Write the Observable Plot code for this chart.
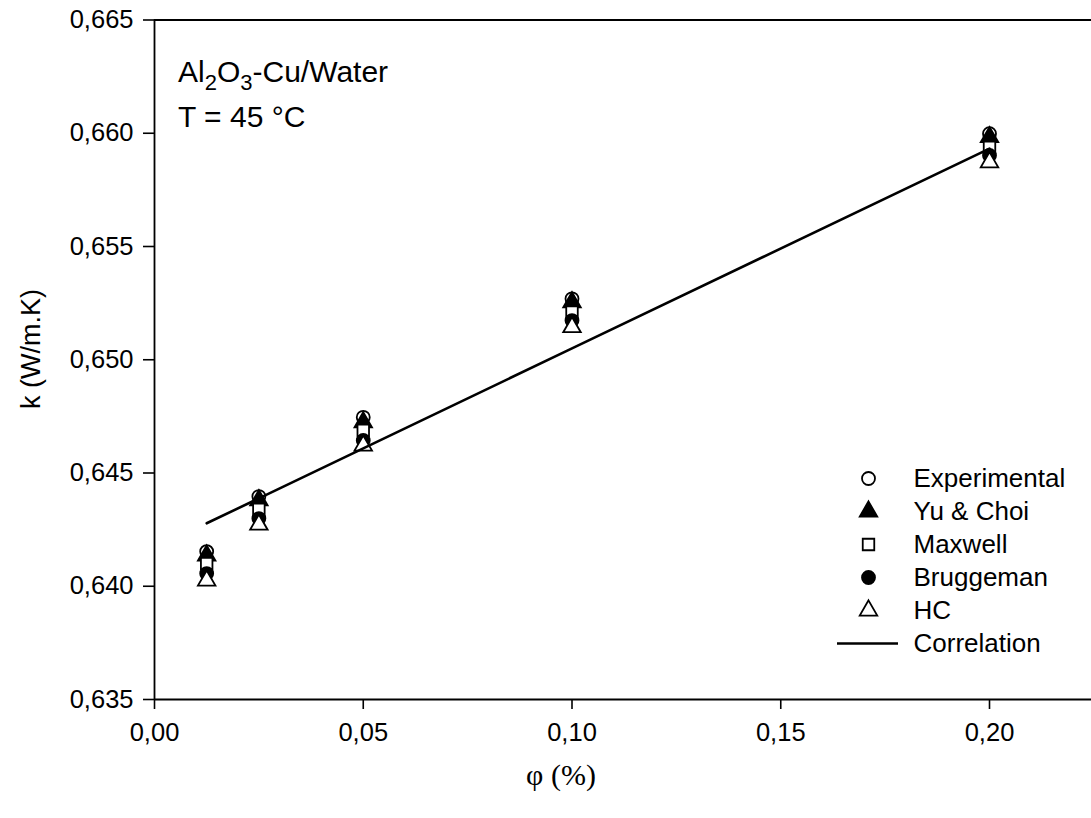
<!DOCTYPE html>
<html>
<head>
<meta charset="utf-8">
<script src="https://cdn.jsdelivr.net/npm/d3@7"></script>
<script src="https://cdn.jsdelivr.net/npm/@observablehq/plot@0.6"></script>
<style>
  html, body { margin: 0; padding: 0; background: white; }
  #wrap { position: relative; width: 1091px; height: 818px; }
  #legend { position: absolute; left: 830px; top: 455px; }
</style>
</head>
<body>
<div id="wrap"></div>
<script>
// ---- data ----
const phi = [0.0125, 0.025, 0.05, 0.1, 0.2];
const experimental = [0.64153, 0.64396, 0.64746, 0.65269, 0.65998];
const yuChoi      = [0.64136, 0.64380, 0.64724, 0.65254, 0.65983];
const maxwell     = [0.64100, 0.64339, 0.64688, 0.65210, 0.65938];
const bruggeman   = [0.64056, 0.64299, 0.64644, 0.65173, 0.65902];
const hc          = [0.64025, 0.64272, 0.64621, 0.65144, 0.65872];
const correlation = [0.64278, 0.64388, 0.64609, 0.65050, 0.65932];

const seriesNames = ["Experimental", "Yu & Choi", "Maxwell", "Bruggeman", "HC"];
const lineName = "Correlation";
const xTicks = [0, 0.05, 0.10, 0.15, 0.20];
const yTicks = [0.635, 0.640, 0.645, 0.650, 0.655, 0.660, 0.665];
const annotation1 = ["Al", "2", "O", "3", "-Cu/Water"];
const annotation2 = "T = 45 °C";
const xTitle = "φ (%)";
const yTitle = "k (W/m.K)";

// ---- styling per series ----
const seriesValues = [experimental, yuChoi, maxwell, bruggeman, hc];
const symbols = ["circle", "triangle", "square", "circle", "triangle"];
const fills = ["white", "black", "white", "black", "white"];

const comma = (fmt) => (d) => d3.format(fmt)(d).replace(".", ",");

const FONT = "'Liberation Sans', Arial, sans-serif";

const dotMarks = seriesValues.map((vals, i) =>
  Plot.dot(phi.map((x, j) => ({x, y: vals[j]})), {
    x: "x", y: "y", symbol: () => symbols[i], r: 6.5,
    fill: fills[i], stroke: "black", strokeWidth: 1.8
  })
);

const chart = Plot.plot({
  width: 1091,
  height: 818,
  marginLeft: 154,
  marginRight: 0,
  marginTop: 19.5,
  marginBottom: 119,
  style: {fontFamily: FONT, color: "black", background: "transparent"},
  x: {domain: [0, 0.22443]},
  y: {domain: [0.635, 0.665]},
  symbol: {type: "identity"},
  marks: [
    Plot.axisX({ticks: xTicks, tickFormat: comma(".2f"), tickSize: 10, tickPadding: 13,
      fontSize: 25.5, label: null, strokeWidth: 1.6}),
    Plot.axisY({ticks: yTicks, tickFormat: comma(".3f"), tickSize: 11, tickPadding: 10,
      fontSize: 25.5, label: null, strokeWidth: 1.6}),
    Plot.ruleY([0.635], {strokeWidth: 1.8}),
    Plot.ruleY([0.665], {strokeWidth: 1.8}),
    Plot.ruleX([0], {strokeWidth: 1.8}),
    ...dotMarks,
    Plot.line(phi.map((x, j) => ({x, y: correlation[j]})), {x: "x", y: "y", stroke: "black", strokeWidth: 2.6})
  ]
});

const wrap = document.getElementById("wrap");
wrap.appendChild(chart);

// annotations and axis titles as text
const svg = d3.select(chart);
const t1 = svg.append("text").attr("x", 178).attr("y", 82).attr("text-anchor", "start")
  .attr("font-family", FONT).attr("font-size", 30).attr("fill", "black");
t1.append("tspan").text(annotation1[0]);
t1.append("tspan").attr("dy", 8).attr("font-size", 22).text(annotation1[1]);
t1.append("tspan").attr("dy", -8).text(annotation1[2]);
t1.append("tspan").attr("dy", 8).attr("font-size", 22).text(annotation1[3]);
t1.append("tspan").attr("dy", -8).text(annotation1[4]);

svg.append("text").attr("x", 178).attr("y", 127).attr("text-anchor", "start")
  .attr("font-family", FONT).attr("font-size", 30).attr("fill", "black").text(annotation2);

svg.append("text").attr("transform", "translate(40,349) rotate(-90)")
  .attr("text-anchor", "middle")
  .attr("font-family", FONT).attr("font-size", 27).attr("fill", "black").text(yTitle);

svg.append("text").attr("x", 561).attr("y", 785)
  .attr("text-anchor", "middle")
  .attr("font-family", "'Liberation Serif', 'Times New Roman', serif").attr("font-size", 30).attr("fill", "black").text(xTitle);

// ---- legend (separate small Plot) ----
const legendNames = [...seriesNames, lineName];
const legend = Plot.plot({
  width: 261, height: 210,
  margin: 0,
  style: {fontFamily: FONT, color: "black", background: "transparent", overflow: "visible"},
  x: {type: "identity", axis: null},
  y: {type: "point", domain: legendNames, range: [23.3, 188.3], padding: 0, axis: null},
  symbol: {type: "identity"},
  marks: [
    ...seriesNames.map((name, i) => Plot.dot([name], {
      x: () => 38, y: d => d, symbol: () => symbols[i], r: 6.5,
      fill: fills[i], stroke: "black", strokeWidth: 1.8
    })),
    Plot.ruleY([lineName], {y: d => d, x1: () => 7, x2: () => 68, stroke: "black", strokeWidth: 2.6}),
    Plot.text(legendNames, {x: () => 83, y: d => d, text: d => d, textAnchor: "start", fontSize: 26, fill: "black"})
  ]
});
legend.id = "legend";
wrap.appendChild(legend);
</script>
</body>
</html>
